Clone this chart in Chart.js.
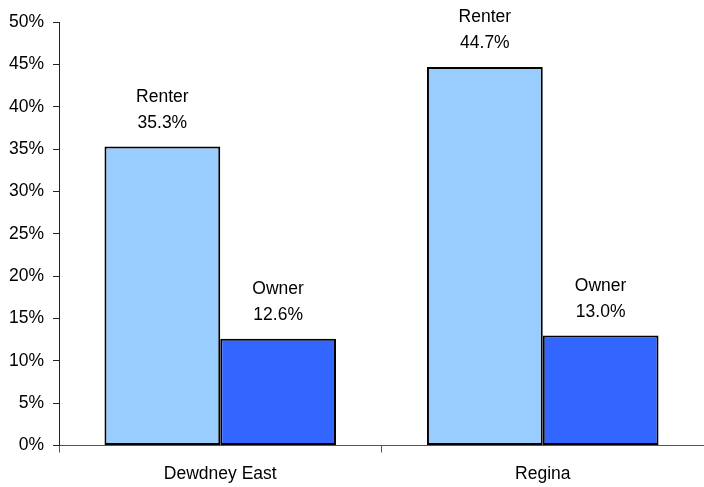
<!DOCTYPE html>
<html>
<head>
<meta charset="utf-8">
<script src="https://cdn.jsdelivr.net/npm/chart.js@4/dist/chart.umd.min.js"></script>
<style>
  html, body { margin: 0; padding: 0; background: #fff; }
  #wrap { width: 704px; height: 487px; }
</style>
</head>
<body>
<div id="wrap"><canvas id="c"></canvas></div>
<script>
const categories = ["Dewdney East", "Regina"];
const seriesNames = ["Renter", "Owner"];
const renterValues = [35.3, 44.7];
const ownerValues = [12.6, 13.0];
const yTicks = [0, 5, 10, 15, 20, 25, 30, 35, 40, 45, 50];

const FONT = "'Liberation Sans', Arial, sans-serif";

const barLabels = {
  id: 'barLabels',
  afterDatasetsDraw(chart) {
    const ctx = chart.ctx;
    ctx.save();
    ctx.fillStyle = '#000';
    ctx.font = '17.5px ' + FONT;
    ctx.textAlign = 'center';
    ctx.textBaseline = 'alphabetic';
    chart.data.datasets.forEach((ds, di) => {
      const meta = chart.getDatasetMeta(di);
      meta.data.forEach((bar, i) => {
        const v = ds.data[i];
        const x = bar.x;
        const y = bar.y;
        ctx.fillText(v.toFixed(1) + '%', x, y - 18.5);
        ctx.fillText(ds.label, x, y - 44.5);
      });
    });
    ctx.restore();
  }
};

new Chart(document.getElementById('c'), {
  type: 'bar',
  data: {
    labels: categories,
    datasets: [
      {
        label: seriesNames[0],
        data: renterValues,
        backgroundColor: '#99CCFF',
        borderColor: '#000',
        borderWidth: 2,
        borderSkipped: false
      },
      {
        label: seriesNames[1],
        data: ownerValues,
        backgroundColor: '#3366FF',
        borderColor: '#000',
        borderWidth: 2,
        borderSkipped: false
      }
    ]
  },
  options: {
    responsive: true,
    maintainAspectRatio: false,
    animation: false,
    devicePixelRatio: 1,
    layout: { padding: { top: 22, left: 0, right: 0, bottom: 0 } },
    plugins: {
      legend: { display: false },
      tooltip: { enabled: false }
    },
    datasets: {
      bar: { categoryPercentage: 0.718, barPercentage: 1.0 }
    },
    scales: {
      x: {
        offset: true,
        afterFit(axis) { axis.height = 41.5; },
        grid: {
          offset: true,
          drawOnChartArea: false,
          drawTicks: true,
          tickLength: 7,
          color: '#555'
        },
        border: { display: true, color: '#555', width: 1 },
        ticks: {
          color: '#000',
          font: { family: FONT, size: 17.5 },
          padding: 11
        }
      },
      y: {
        min: 0,
        max: 50,
        afterFit(axis) { axis.width = 59; },
        afterBuildTicks(axis) {
          axis.ticks = yTicks.map(v => ({ value: v }));
        },
        grid: {
          drawOnChartArea: false,
          drawTicks: true,
          tickLength: 6,
          color: '#222'
        },
        border: { display: true, color: '#222', width: 1 },
        ticks: {
          color: '#000',
          font: { family: FONT, size: 17.5 },
          padding: 9,
          callback: v => v + '%'
        }
      }
    }
  },
  plugins: [barLabels]
});
</script>
</body>
</html>
